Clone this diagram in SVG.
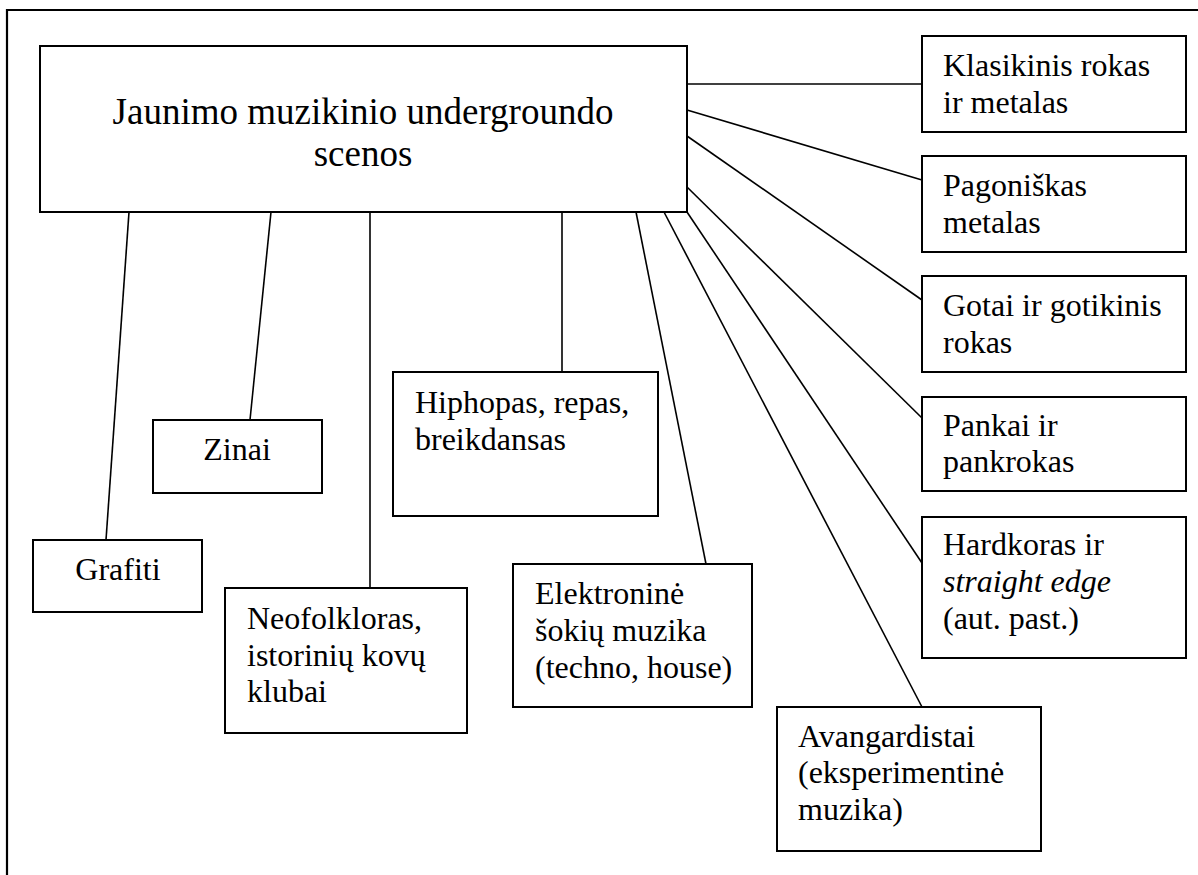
<svg xmlns="http://www.w3.org/2000/svg" width="1198" height="875" viewBox="0 0 1198 875">
<style>
.box{fill:#fff;stroke:#000;stroke-width:2}
.frame{fill:none;stroke:#000;stroke-width:2.2}
.conn line{stroke:#000;stroke-width:1.6}
text{font-family:'Liberation Serif','Times New Roman',serif;font-size:32px;fill:#000}
.c{text-anchor:middle}
.main{font-size:37px}
</style>
<rect width="1198" height="875" fill="#fff"/>
<path class="frame" d="M7,875 V10 H1198"/>
<g id="connectors" class="conn">
<line x1="129" y1="212" x2="106" y2="540"/>
<line x1="271" y1="212" x2="250" y2="420"/>
<line x1="370" y1="212" x2="370" y2="588"/>
<line x1="562" y1="212" x2="562" y2="372"/>
<line x1="636" y1="212" x2="706" y2="564"/>
<line x1="664" y1="212" x2="922" y2="707"/>
<line x1="687" y1="212" x2="922" y2="563"/>
<line x1="687" y1="187" x2="922" y2="418"/>
<line x1="687" y1="136" x2="922" y2="300"/>
<line x1="687" y1="110" x2="922" y2="180"/>
<line x1="687" y1="84" x2="922" y2="84"/>
</g>
<g id="main">
<rect class="box" x="40" y="46" width="647" height="166"/>
<text class="main c" x="363" y="124">Jaunimo muzikinio undergroundo</text>
<text class="main c" x="363" y="166">scenos</text>
</g>
<g id="klasikinis">
<rect class="box" x="922" y="36" width="264" height="96"/>
<text x="943" y="76">Klasikinis rokas</text>
<text x="943" y="113">ir metalas</text>
</g>
<g id="pagoniskas">
<rect class="box" x="922" y="156" width="264" height="96"/>
<text x="943" y="196">Pagoniškas</text>
<text x="943" y="233">metalas</text>
</g>
<g id="gotai">
<rect class="box" x="922" y="276" width="264" height="96"/>
<text x="943" y="316">Gotai ir gotikinis</text>
<text x="943" y="353">rokas</text>
</g>
<g id="pankai">
<rect class="box" x="922" y="397" width="264" height="94"/>
<text x="943" y="436">Pankai ir</text>
<text x="943" y="472">pankrokas</text>
</g>
<g id="hardkoras">
<rect class="box" x="922" y="517" width="264" height="141"/>
<text x="943" y="555">Hardkoras ir</text>
<text x="943" y="592" font-style="italic">straight edge</text>
<text x="943" y="629">(aut. past.)</text>
</g>
<g id="avangardistai">
<rect class="box" x="777" y="707" width="264" height="144"/>
<text x="798" y="747">Avangardistai</text>
<text x="798" y="783">(eksperimentinė</text>
<text x="798" y="820">muzika)</text>
</g>
<g id="elektronine">
<rect class="box" x="513" y="564" width="239" height="143"/>
<text x="535" y="604">Elektroninė</text>
<text x="535" y="641">šokių muzika</text>
<text x="535" y="678">(techno, house)</text>
</g>
<g id="hiphopas">
<rect class="box" x="393" y="372" width="265" height="144"/>
<text x="415" y="413">Hiphopas, repas,</text>
<text x="415" y="450">breikdansas</text>
</g>
<g id="neofolkloras">
<rect class="box" x="225" y="588" width="242" height="145"/>
<text x="247" y="629">Neofolkloras,</text>
<text x="247" y="666">istorinių kovų</text>
<text x="247" y="702">klubai</text>
</g>
<g id="zinai">
<rect class="box" x="153" y="420" width="169" height="73"/>
<text class="c" x="237" y="460">Zinai</text>
</g>
<g id="grafiti">
<rect class="box" x="33" y="540" width="169" height="72"/>
<text class="c" x="118" y="580">Grafiti</text>
</g>
</svg>
